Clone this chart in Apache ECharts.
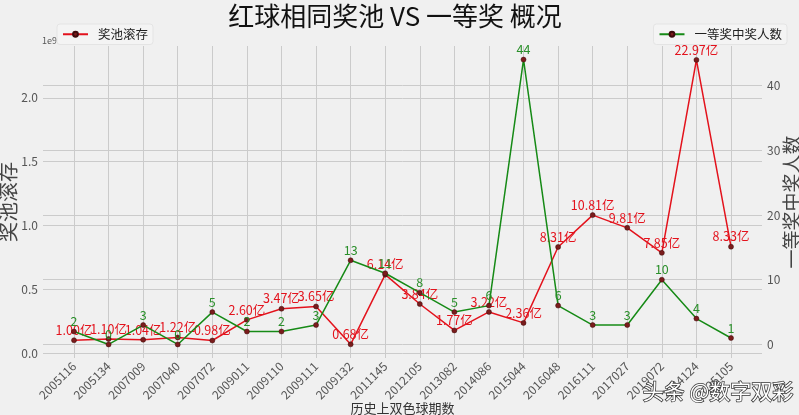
<!DOCTYPE html>
<html>
<head>
<meta charset="utf-8">
<script src="https://cdn.jsdelivr.net/npm/echarts@6/dist/echarts.min.js"></script>
<style>
html, body { margin: 0; padding: 0; background: #f0f0f0; }
#main { width: 799px; height: 415px; }
</style>
</head>
<body>
<div id="main"></div>
<script>
// 期号
var periods = ['2005116', '2005134', '2007009', '2007040', '2007072', '2009011', '2009110',
    '2009111', '2009132', '2011145', '2012105', '2013082', '2014086', '2015044',
    '2016048', '2016111', '2017027', '2019072', '2024124', '2025105'];
// 奖池滚存（亿）
var poolYi = [1.00, 1.10, 1.04, 1.22, 0.98, 2.60, 3.47, 3.65, 0.68, 6.14,
    3.84, 1.77, 3.22, 2.36, 8.31, 10.81, 9.81, 7.85, 22.97, 8.33];
// 一等奖中奖人数
var winners = [2, 0, 3, 0, 5, 2, 2, 3, 13, 11, 8, 5, 6, 44, 6, 3, 3, 10, 4, 1];

var font = '"Noto Sans CJK SC", "Noto Sans", sans-serif';
var gridLine = { color: '#cbcbcb', width: 1 };

var myChart = echarts.init(document.getElementById('main'));
option = {
    backgroundColor: '#f0f0f0',
    animation: false,
    textStyle: { fontFamily: font },
    title: {
        text: '红球相同奖池 VS 一等奖 概况',
        left: 390,
        textAlign: 'center',
        top: -2,
        textStyle: { fontSize: 26, fontWeight: 'normal', color: '#111', fontFamily: font }
    },
    legend: [
        {
            data: ['奖池滚存'],
            left: 57, top: 24,
            itemWidth: 25, itemHeight: 6,
            padding: [4, 5, 4, 5],
            backgroundColor: '#f4f4f4',
            borderColor: '#e4e4e4', borderWidth: 1, borderRadius: 3,
            textStyle: { fontSize: 12.5, color: '#222', fontFamily: font, padding: [0, 0, 0, 5] }
        },
        {
            data: ['一等奖中奖人数'],
            right: 12, top: 24,
            itemWidth: 25, itemHeight: 6,
            padding: [4, 5, 4, 5],
            backgroundColor: '#f4f4f4',
            borderColor: '#e4e4e4', borderWidth: 1, borderRadius: 3,
            textStyle: { fontSize: 12.5, color: '#222', fontFamily: font, padding: [0, 0, 0, 5] }
        }
    ],
    grid: [
        { left: 74, right: 68, top: 46, bottom: 57, outerBoundsMode: 'none' },
        { left: 43, right: 37, top: 46, bottom: 57, outerBoundsMode: 'none' }
    ],
    xAxis: [
        {
            type: 'category', gridIndex: 0, data: periods, boundaryGap: false,
            axisLine: { show: false }, axisTick: { show: false },
            axisLabel: { rotate: 45, fontSize: 12, color: '#555', margin: 6, fontFamily: font },
            splitLine: { show: true, lineStyle: gridLine },
            name: '历史上双色球期数', nameLocation: 'middle', nameGap: 44, nameMoveOverlap: false,
            nameTextStyle: { fontSize: 13, color: '#333', fontFamily: font }
        },
        { type: 'value', gridIndex: 1, show: false, min: 0, max: 1 }
    ],
    yAxis: [
        { type: 'value', gridIndex: 0, min: -0.39, max: 24.06, show: false },
        { type: 'value', gridIndex: 0, min: -2.09, max: 46.1, show: false },
        {
            type: 'value', gridIndex: 1, position: 'left', min: -0.39, max: 24.06, splitNumber: 5,
            axisLine: { show: false }, axisTick: { show: false },
            axisLabel: {
                fontSize: 12, color: '#555', margin: 5, showMinLabel: false, showMaxLabel: false,
                formatter: function (v) { return (v / 10).toFixed(1); }
            },
            splitLine: { show: true, lineStyle: gridLine, showMinLine: false, showMaxLine: false },
            name: '奖池滚存', nameLocation: 'middle', nameRotate: 90, nameGap: 25, nameMoveOverlap: false,
            nameTextStyle: { fontSize: 20, color: '#444', fontFamily: font }
        },
        {
            type: 'value', gridIndex: 1, position: 'right', min: -2.09, max: 46.1, splitNumber: 5,
            axisLine: { show: false }, axisTick: { show: false },
            axisLabel: { fontSize: 12, color: '#555', margin: 5, showMinLabel: false, showMaxLabel: false },
            splitLine: { show: true, lineStyle: gridLine, showMinLine: false, showMaxLine: false },
            name: '一等奖中奖人数', nameLocation: 'middle', nameRotate: 90, nameGap: 20, nameMoveOverlap: false,
            nameTextStyle: { fontSize: 19, color: '#444', fontFamily: font }
        }
    ],
    graphic: [
        {
            type: 'text', left: 42, top: 36,
            style: { text: '1e9', fontSize: 9, fill: '#555', fontFamily: font }
        },
        {
            type: 'text', left: 642, top: 380, z: 100,
            style: {
                text: '头条 @数字双彩', fontSize: 21, fill: '#ffffff',
                stroke: '#333', lineWidth: 1.5, fontFamily: font
            }
        }
    ],
    series: [
        {
            name: '奖池滚存', type: 'line', xAxisIndex: 0, yAxisIndex: 0,
            data: poolYi, z: 2,
            symbol: 'circle', symbolSize: 5,
            lineStyle: { color: '#e3121c', width: 1.5 },
            itemStyle: { color: '#7a1c1c', borderColor: '#3d0b0b', borderWidth: 0.5 },
            label: {
                show: true, position: 'top', distance: 1,
                color: '#e3121c', fontSize: 12.5, fontFamily: font,
                formatter: function (p) { return p.value.toFixed(2) + '亿'; }
            },
            emphasis: { disabled: true }
        },
        {
            name: '一等奖中奖人数', type: 'line', xAxisIndex: 0, yAxisIndex: 1,
            data: winners, z: 3,
            symbol: 'circle', symbolSize: 5,
            lineStyle: { color: '#168a16', width: 1.5 },
            itemStyle: { color: '#7a1c1c', borderColor: '#3d0b0b', borderWidth: 0.5 },
            label: {
                show: true, position: 'top', distance: 1,
                color: '#2a8f2a', fontSize: 12.5, fontFamily: font
            },
            emphasis: { disabled: true }
        }
    ]
};

myChart.setOption(option);
</script>
</body>
</html>
